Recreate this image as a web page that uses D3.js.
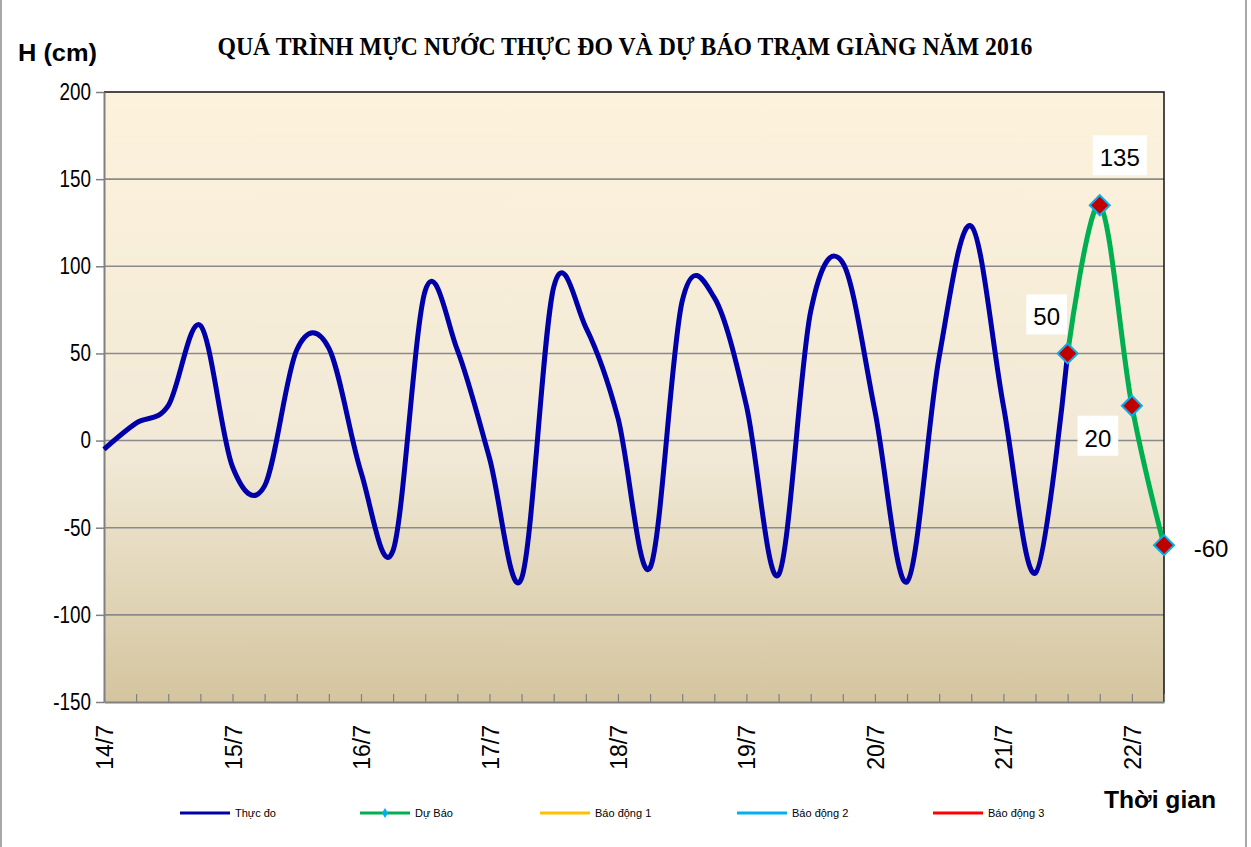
<!DOCTYPE html>
<html>
<head>
<meta charset="utf-8">
<script src="https://cdn.jsdelivr.net/npm/d3@7"></script>
<style>
  body { margin: 0; background: #fff; }
</style>
</head>
<body>
<script>
//day labels on the time axis, 4 readings per day (every 6 hours)
var dayLabels = ["14/7", "15/7", "16/7", "17/7", "18/7", "19/7", "20/7", "21/7", "22/7"];
var hours = ["00h", "06h", "12h", "18h"];

//measured water level (cm)
var thucDo = [-5, 10, 20, 66, -15, -26, 52, 53, -18, -63, 86, 52, -10, -79, 88, 65,
              13, -73, 80, 82, 20, -77, 74, 102, 17, -81, 48, 123, 20, -76, 50];

//forecast water level (cm), starting at the last measured reading
var duBao = [50, 135, 20, -60];
var duBaoStart = 30;

var yTicks = [-150, -100, -50, 0, 50, 100, 150, 200];

var legendNames = ["Thực đo", "Dự Báo", "Báo động 1", "Báo động 2", "Báo động 3"];
var legendColors = ["#0000a8", "#00b050", "#ffc000", "#00b0f0", "#ff0000"];

//build the category list (34 six-hour steps)
var categories = [];
dayLabels.forEach(function(d){
    hours.forEach(function(h){ categories.push(d + " " + h); });
});
categories = categories.slice(0, duBaoStart + duBao.length);

var width = 1251, height = 847;
var plot = {left: 104, right: 1164, top: 92, bottom: 702};
var sans = "Liberation Sans, Arial, sans-serif";

var svg = d3.select("body").append("svg")
    .attr("width", width)
    .attr("height", height)
    .attr("font-family", sans);

//outer chart border
svg.append("rect")
    .attr("x", 1).attr("y", -2)
    .attr("width", 1245).attr("height", 852)
    .attr("fill", "none")
    .attr("stroke", "#8c8c8c")
    .attr("stroke-width", 1.5);

var x = d3.scalePoint()
    .domain(categories)
    .range([plot.left, plot.right]);

var y = d3.scaleLinear()
    .domain([-150, 200])
    .range([plot.bottom, plot.top]);

//plot background gradient
var grad = svg.append("defs").append("linearGradient")
    .attr("id", "bg")
    .attr("x1", 0).attr("y1", 0).attr("x2", 0).attr("y2", 1);
grad.append("stop").attr("offset", "0%").attr("stop-color", "#fdf2dc");
grad.append("stop").attr("offset", "60%").attr("stop-color", "#f1e9d6");
grad.append("stop").attr("offset", "100%").attr("stop-color", "#d4c59f");

svg.append("rect")
    .attr("x", plot.left).attr("y", plot.top)
    .attr("width", plot.right - plot.left)
    .attr("height", plot.bottom - plot.top)
    .attr("fill", "url(#bg)");

//horizontal gridlines
svg.append("g")
    .selectAll("line")
    .data(yTicks.filter(function(t){ return t > -150 && t < 200; }))
    .enter().append("line")
    .attr("x1", plot.left).attr("x2", plot.right)
    .attr("y1", function(d){ return y(d); })
    .attr("y2", function(d){ return y(d); })
    .attr("stroke", "#8a8a8a")
    .attr("stroke-width", 1.6);

//top and right border
svg.append("path")
    .attr("d", "M" + plot.left + "," + plot.top + "H" + plot.right + "V" + plot.bottom)
    .attr("fill", "none")
    .attr("stroke", "#111")
    .attr("stroke-width", 1.5);

//y axis
var yAxis = svg.append("g")
    .attr("transform", "translate(" + plot.left + ",0)")
    .call(d3.axisLeft(y).tickValues(yTicks).tickSize(8).tickSizeOuter(0).tickPadding(0)
        .tickFormat(function(d){ return String(d); }));
yAxis.select(".domain").attr("stroke", "#808080").attr("stroke-width", 2);
yAxis.selectAll(".tick line").attr("stroke", "#808080").attr("stroke-width", 1.5);
//labels are a bit condensed in the original
yAxis.selectAll(".tick text")
    .attr("x", null)
    .attr("transform", "translate(-13,0) scale(0.82,1)")
    .attr("font-size", 23)
    .attr("font-family", sans)
    .attr("fill", "#000");

//x axis, inside ticks on every reading
var xAxis = svg.append("g")
    .attr("transform", "translate(0," + plot.bottom + ")")
    .call(d3.axisBottom(x).tickSize(-8).tickSizeOuter(0).tickFormat(""));
xAxis.select(".domain").attr("stroke", "#808080").attr("stroke-width", 2);
xAxis.selectAll(".tick line").attr("stroke", "#808080").attr("stroke-width", 1.2);

//day labels, rotated
svg.append("g")
    .selectAll("text")
    .data(categories.filter(function(c, i){ return i % 4 === 0; }))
    .enter().append("text")
    .attr("transform", function(d){
        return "translate(" + (x(d) + 1) + "," + (plot.bottom + 23) + ") rotate(-90)";
    })
    .attr("dy", "0.35em")
    .attr("text-anchor", "end")
    .attr("font-size", 23)
    .text(function(d){ return d.split(" ")[0]; });

//lines
var line = d3.line()
    .x(function(d){ return x(d.cat); })
    .y(function(d){ return y(d.value); })
    .curve(d3.curveCardinal.tension(0));

var measured = thucDo.map(function(v, i){ return {cat: categories[i], value: v}; });
var forecast = duBao.map(function(v, i){ return {cat: categories[duBaoStart + i], value: v}; });

svg.append("path")
    .datum(forecast)
    .attr("d", line)
    .attr("fill", "none")
    .attr("stroke", legendColors[1])
    .attr("stroke-width", 5);

svg.append("path")
    .datum(measured)
    .attr("d", line)
    .attr("fill", "none")
    .attr("stroke", legendColors[0])
    .attr("stroke-width", 5)
    .attr("stroke-linejoin", "round");

//forecast markers
var diamond = "M0,-10L10,0L0,10L-10,0Z";
svg.append("g")
    .selectAll("path")
    .data(forecast)
    .enter().append("path")
    .attr("d", diamond)
    .attr("transform", function(d){ return "translate(" + x(d.cat) + "," + y(d.value) + ")"; })
    .attr("fill", "#c00000")
    .attr("stroke", "#00b0f0")
    .attr("stroke-width", 2);

//data labels with white boxes
var labelOffset = [[-21, -28], [20, -39], [-34, 41], [47, 12]];
var labels = svg.append("g")
    .selectAll("g")
    .data(forecast)
    .enter().append("g")
    .attr("transform", function(d, i){
        return "translate(" + (x(d.cat) + labelOffset[i][0]) + "," + (y(d.value) + labelOffset[i][1]) + ")";
    });
labels.append("text")
    .attr("text-anchor", "middle")
    .attr("font-size", 24)
    .text(function(d){ return d.value; });
labels.insert("rect", "text")
    .each(function(){
        var bb = this.nextSibling.getBBox();
        d3.select(this)
            .attr("x", bb.x - 7).attr("y", -31)
            .attr("width", bb.width + 14).attr("height", 40);
    })
    .attr("fill", "#fff");

//title and axis titles
svg.append("text")
    .attr("x", 625).attr("y", 55)
    .attr("text-anchor", "middle")
    .attr("font-family", "Liberation Serif, Times New Roman, serif")
    .attr("font-weight", "bold")
    .attr("font-size", 26)
    .attr("textLength", 815)
    .attr("lengthAdjust", "spacingAndGlyphs")
    .text("QUÁ TRÌNH MỰC NƯỚC THỰC ĐO VÀ DỰ BÁO TRẠM GIÀNG NĂM 2016");

svg.append("text")
    .attr("x", 18).attr("y", 61)
    .attr("font-weight", "bold")
    .attr("font-size", 24)
    .attr("textLength", 79)
    .attr("lengthAdjust", "spacingAndGlyphs")
    .text("H (cm)");

svg.append("text")
    .attr("x", 1104).attr("y", 808)
    .attr("font-weight", "bold")
    .attr("font-size", 24)
    .attr("textLength", 112)
    .attr("lengthAdjust", "spacingAndGlyphs")
    .text("Thời gian");

//legend
var legendX = [180, 360, 540, 737, 933];
var legend = svg.append("g")
    .selectAll("g")
    .data(legendNames)
    .enter().append("g")
    .attr("transform", function(d, i){ return "translate(" + legendX[i] + ",813)"; });
legend.append("line")
    .attr("x1", 0).attr("x2", 50)
    .attr("stroke", function(d, i){ return legendColors[i]; })
    .attr("stroke-width", 3);
legend.filter(function(d, i){ return i === 1; })
    .append("path")
    .attr("d", "M25,-5L28,0L25,5L22,0Z")
    .attr("fill", "#00b0f0");
legend.append("text")
    .attr("x", 55).attr("y", 4)
    .attr("font-size", 11)
    .text(function(d){ return d; });
</script>
</body>
</html>
